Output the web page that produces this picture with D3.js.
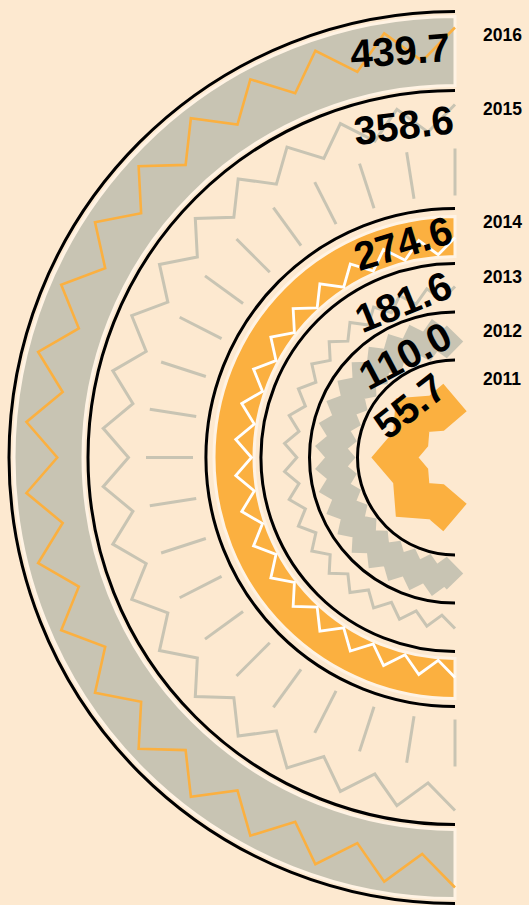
<!DOCTYPE html>
<html>
<head>
<meta charset="utf-8">
<script src="https://cdn.jsdelivr.net/npm/d3@7"></script>
<style>
body { margin: 0; background: #fde9d0; }
svg { display: block; }
.ring { fill: none; stroke: #000; stroke-width: 3; }
.total { font-family: "Liberation Sans", Arial, sans-serif; font-weight: bold; font-size: 40px; fill: #000; }
.year { font-family: "Liberation Sans", Arial, sans-serif; font-weight: bold; font-size: 17.5px; fill: #000; }
</style>
</head>
<body>
<script>
// data
var years = ["2011", "2012", "2013", "2014", "2015", "2016"];
var totals = ["55.7", "110.0", "181.6", "274.6", "358.6", "439.7"];

// zigzag outlines, radius relative to the outer vertex
var zigFine = [1, 0.925, 1, 0.925, 1, 0.925, 1, 0.925, 1, 0.925,
               1, 0.925, 1, 0.925, 1, 0.925, 1, 0.925, 1, 0.925,
               1, 0.925, 1, 0.925, 1, 0.925, 1, 0.925, 1, 0.925,
               1, 0.925, 1, 0.925, 1, 0.925, 1, 0.925, 1];
var zigCoarse = [1, 0.8, 1, 0.8, 1, 0.8, 1, 0.8, 1];

var orange = "#fbb040";
var grey = "#c8c4b3";
var light = "#fff3e4";

var W = 529, H = 905;
var cx = 455, cy = 457.5;

// layout per year (2011 .. 2016)
var ringR = [97.5, 145.5, 194, 249, 367, 446];
var totalPos = [[449, 393], [455, 345], [455, 296], [455, 242], [455, 133], [451, 61]];
var totalRot = [38, 28, 22, 17, 7, 4];
var labelY = [385, 337, 283, 228, 115, 41];

var svg = d3.select("body").append("svg")
    .attr("width", W)
    .attr("height", H);

svg.append("rect").attr("width", W).attr("height", H).attr("fill", "#fde9d0");

var g = svg.append("g").attr("transform", "translate(" + cx + "," + cy + ")");

function band(r0, r1, color) {
    var arc = d3.arc().innerRadius(r0).outerRadius(r1)
        .startAngle(-Math.PI).endAngle(0);
    g.append("path")
        .attr("d", arc())
        .attr("fill", color)
        .attr("stroke", light)
        .attr("stroke-width", 3);
}

function zigzag(pattern, rOut, color, width) {
    var ang = d3.scaleLinear().domain([0, pattern.length - 1]).range([0, -Math.PI]);
    var line = d3.lineRadial()
        .angle(function (d, i) { return ang(i); })
        .radius(function (d) { return d * rOut; });
    g.append("path")
        .attr("d", line(pattern))
        .attr("fill", "none")
        .attr("stroke", color)
        .attr("stroke-width", width)
        .attr("stroke-linejoin", "miter")
        .attr("stroke-miterlimit", 10);
}

// 2016
band(372, 441, grey);
zigzag(zigFine, 430, orange, 2.6);

// 2015
zigzag(zigFine, 353, grey, 3);
var tickAng = d3.scaleLinear().domain([0, 20]).range([0, Math.PI]);
g.selectAll("line.tick")
    .data(d3.range(21))
    .enter().append("line")
    .attr("class", "tick")
    .attr("x1", function (d) { return -262 * Math.sin(tickAng(d)); })
    .attr("y1", function (d) { return -262 * Math.cos(tickAng(d)); })
    .attr("x2", function (d) { return -309 * Math.sin(tickAng(d)); })
    .attr("y2", function (d) { return -309 * Math.cos(tickAng(d)); })
    .attr("stroke", grey)
    .attr("stroke-width", 3);

// 2014
band(201, 241, orange);
zigzag(zigFine, 220, "#fff", 2.8);

// 2013
zigzag(zigFine, 171, grey, 3);

// 2012
zigzag(zigFine, 124, grey, 23);

// 2011
zigzag(zigCoarse, 60, orange, 36);

// black rings
ringR.forEach(function (r) {
    var p = d3.path();
    p.arc(0, 0, r, -Math.PI / 2, Math.PI / 2, true);
    g.append("path").attr("class", "ring").attr("d", p.toString());
});

// totals, tilted along the rings
svg.selectAll("text.total")
    .data(totals)
    .enter().append("text")
    .attr("class", "total")
    .attr("text-anchor", "end")
    .attr("transform", function (d, i) {
        return "translate(" + totalPos[i][0] + "," + totalPos[i][1] + ") rotate(" + (-totalRot[i]) + ")";
    })
    .text(function (d) { return d; });

// year labels
svg.selectAll("text.year")
    .data(years)
    .enter().append("text")
    .attr("class", "year")
    .attr("x", 483)
    .attr("y", function (d, i) { return labelY[i]; })
    .text(function (d) { return d; });
</script>
</body>
</html>
